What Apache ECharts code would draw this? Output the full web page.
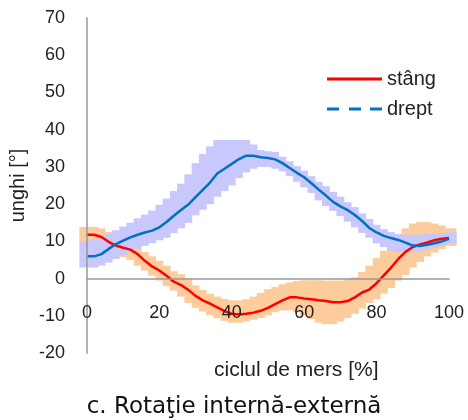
<!DOCTYPE html>
<html>
<head>
<meta charset="utf-8">
<script src="https://cdn.jsdelivr.net/npm/echarts@6/dist/echarts.min.js"></script>
<style>html,body{margin:0;padding:0;background:#fff}#c{width:468px;height:420px}</style>
</head>
<body>
<div id="c"></div>
<script>
const xs = [0,2,4,6,8,10,12,14,16,18,20,22,24,26,28,30,32,34,36,38,40,42,44,46,48,50,52,54,56,58,60,62,64,66,68,70,72,74,76,78,80,82,84,86,88,90,92,94,96,98,100];
const drept = [6.0,6.0,6.6,8.0,9.3,10.2,11.1,11.8,12.4,12.9,13.8,15.2,16.9,18.4,19.9,21.9,23.8,25.8,28.2,29.5,30.8,32.1,33.0,33.0,32.6,32.4,32.0,31.0,29.7,28.4,27.2,25.6,23.9,22.3,20.6,19.4,18.4,17.1,15.5,13.6,12.4,11.5,10.9,10.4,9.7,8.9,8.8,9.1,9.5,10.0,10.7];
const stang = [11.8,11.8,11.2,9.9,8.9,8.3,7.8,6.6,4.8,3.3,2.2,0.8,-0.8,-1.7,-3.0,-4.6,-5.8,-6.7,-7.7,-8.7,-9.4,-9.6,-9.4,-9.1,-8.6,-7.8,-6.8,-5.8,-5.0,-5.0,-5.3,-5.5,-5.8,-6.0,-6.3,-6.3,-6.0,-5.0,-3.7,-2.9,-1.2,0.9,3.0,5.3,7.2,8.5,9.2,9.7,10.3,10.7,10.9];
const dreptLow = [3.0,3.0,3.5,4.3,5.3,6.3,7.3,8.0,8.8,9.5,10.3,11.0,12.2,13.5,15.0,17.0,18.5,20.0,22.0,23.5,25.0,27.0,28.5,29.5,30.0,30.0,29.5,28.8,27.5,26.0,24.5,23.0,21.0,19.5,18.2,16.8,15.3,13.8,12.3,11.0,9.5,8.5,7.5,7.2,7.2,7.2,7.3,7.8,8.3,8.8,9.3];
const dreptHigh = [10.0,10.5,11.0,12.0,13.0,14.0,15.0,16.2,17.2,18.3,19.8,21.5,23.5,25.5,28.0,31.0,33.5,35.5,37.2,37.2,37.2,37.2,37.2,36.0,34.5,34.2,34.0,32.7,31.5,30.2,29.0,27.5,26.0,24.8,23.3,22.0,20.5,19.2,17.5,16.0,14.5,13.3,12.5,12.0,11.8,11.8,11.8,12.0,12.0,12.2,12.5];
const stangLow = [9.5,9.5,9.0,8.2,7.0,5.8,5.0,3.5,2.2,0.8,-0.5,-2.0,-3.2,-4.8,-6.5,-7.8,-8.8,-9.8,-10.6,-11.3,-11.8,-11.8,-11.5,-11.0,-10.5,-9.8,-9.0,-8.5,-8.5,-9.0,-9.8,-10.8,-11.8,-12.2,-12.2,-11.5,-10.5,-9.4,-8.0,-6.5,-5.5,-4.0,-2.5,-0.5,1.0,3.0,4.5,6.0,7.0,8.0,8.8];
const stangHigh = [13.9,13.9,13.5,12.5,11.0,9.5,8.8,8.5,7.2,6.0,4.8,3.5,2.0,1.2,-0.2,-1.8,-3.0,-4.0,-4.8,-5.4,-5.8,-5.8,-5.5,-4.8,-3.8,-2.8,-2.2,-1.5,-1.0,-0.6,-0.4,-0.4,-0.4,-0.5,-0.5,-0.5,0.0,0.4,1.8,3.5,5.5,7.5,9.5,12.0,13.5,14.8,15.2,15.2,14.8,14.3,13.5];
const yTicks = {min: -20, max: 70, interval: 10};
const xTicks = {min: 0, max: 100, interval: 20};

const FONT = '"Liberation Sans", Arial, sans-serif';
const TXT = '#222';

function band(lo, hi, color, name) {
  return {
    type: 'custom', name: name, silent: true, clip: false,
    data: xs.map((x, i) => [x, lo[i], hi[i]]),
    renderItem: function (params, api) {
      const v = api.value(0);
      const l = v === xs[0] ? 2 : 1;
      const r = v === xs[xs.length - 1] ? 2 : 1;
      const p1 = api.coord([v - l, api.value(2)]);
      const p2 = api.coord([v + r, api.value(1)]);
      return {
        type: 'rect',
        shape: {x: p1[0] - 0.3, y: p1[1], width: p2[0] - p1[0] + 0.6, height: p2[1] - p1[1]},
        style: {fill: color}
      };
    },
    z: 1
  };
}

const chart = echarts.init(document.getElementById('c'), null, {renderer: 'canvas'});
chart.setOption({
  animation: false,
  backgroundColor: '#fff',
  grid: {left: 84, right: 19, top: 17.7, bottom: 66.7, containLabel: false},
  legend: {
    orient: 'vertical', left: 322, top: 64,
    itemWidth: 55, itemHeight: 3, itemGap: 10,
    textStyle: {fontFamily: FONT, fontSize: 20, color: TXT},
    data: [
      {name: 'stâng', icon: 'path://M0,0h55v3h-55z'},
      {name: 'drept', icon: 'path://M0,0h12v3h-12z M22,0h12v3h-12z M43,0h12v3h-12z'}
    ]
  },
  xAxis: {
    type: 'value', min: xTicks.min, max: xTicks.max, interval: xTicks.interval, z: 5,
    axisLine: {show: true, onZero: true, lineStyle: {color: '#999', width: 1.5}},
    axisTick: {show: false},
    splitLine: {show: false},
    axisLabel: {margin: -49, fontFamily: FONT, fontSize: 18, color: TXT, hideOverlap: false}
  },
  yAxis: {
    type: 'value', min: yTicks.min, max: yTicks.max, interval: yTicks.interval, z: 5,
    name: 'unghi [°]', nameLocation: 'middle', nameGap: 39, nameRotate: 90,
    nameTextStyle: {fontFamily: FONT, fontSize: 20, color: TXT},
    axisLine: {show: true, lineStyle: {color: '#999', width: 1.5}},
    axisTick: {show: false},
    splitLine: {show: false},
    axisLabel: {margin: 22, fontFamily: FONT, fontSize: 18, color: TXT}
  },
  graphic: [
    {type: 'text', left: 214, top: 360, z: 10, style: {text: 'ciclul de mers [%]', font: '21px ' + FONT, fill: TXT}},
    {type: 'text', left: 'center', top: 396, z: 10, style: {text: 'c. Rotaţie internă-externă', font: '23px "DejaVu Sans", Verdana, sans-serif', fill: '#111'}}
  ],
  series: [
    band(stangLow, stangHigh, '#fdcc9c', 'stângBand'),
    band(dreptLow, dreptHigh, '#c8c8fc', 'dreptBand'),
    {type: 'line', name: 'stâng', data: xs.map((x, i) => [x, stang[i]]), symbol: 'none',
      lineStyle: {color: '#ff0000', width: 2.5}, itemStyle: {color: '#ff0000'}, z: 3},
    {type: 'line', name: 'drept', data: xs.map((x, i) => [x, drept[i]]), symbol: 'none',
      lineStyle: {color: '#0070c0', width: 2.5}, itemStyle: {color: '#0070c0'}, z: 4}
  ]
});
</script>
</body>
</html>
